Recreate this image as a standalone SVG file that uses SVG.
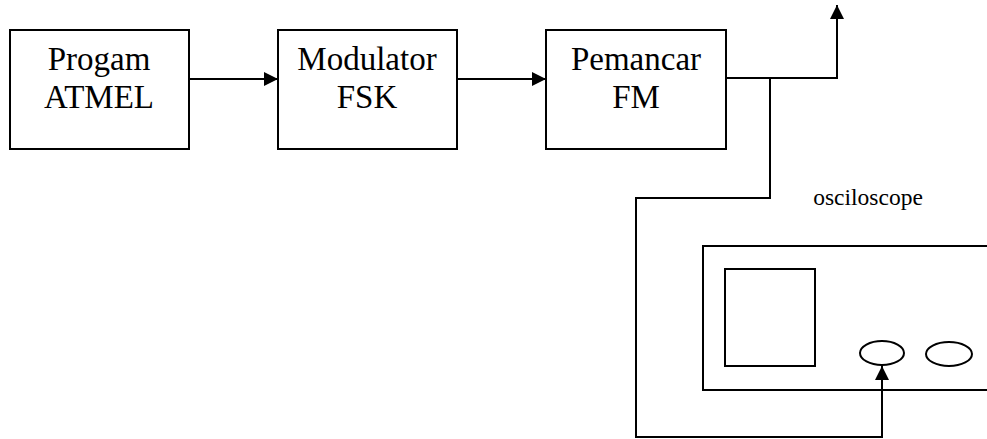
<svg xmlns="http://www.w3.org/2000/svg" width="987" height="439" viewBox="0 0 987 439">
  <style>
    .box { fill: #ffffff; stroke: #000000; stroke-width: 2; }
    .wire { fill: none; stroke: #000000; stroke-width: 2; }
    .lbl { font-family: "Liberation Serif", "Times New Roman", serif; font-size: 33px; fill: #000000; text-anchor: middle; }
    .small { font-family: "Liberation Serif", "Times New Roman", serif; font-size: 23.5px; fill: #000000; text-anchor: middle; }
  </style>
  <defs>
    <marker id="arrow" viewBox="0 0 14 14" refX="14" refY="7" markerWidth="14" markerHeight="14" markerUnits="userSpaceOnUse" orient="auto">
      <path d="M0,0 L14,7 L0,14 Z" fill="#000000"/>
    </marker>
  </defs>
  <rect width="987" height="439" fill="#ffffff"/>

  <g id="progam-atmel">
    <rect class="box" x="10" y="30" width="179" height="119"/>
    <text class="lbl" x="99" y="70">Progam</text>
    <text class="lbl" x="99" y="108">ATMEL</text>
  </g>

  <g id="modulator-fsk">
    <rect class="box" x="278" y="30" width="179" height="119"/>
    <text class="lbl" x="367" y="70">Modulator</text>
    <text class="lbl" x="367" y="108">FSK</text>
  </g>

  <g id="pemancar-fm">
    <rect class="box" x="546" y="30" width="180" height="119"/>
    <text class="lbl" x="636" y="70">Pemancar</text>
    <text class="lbl" x="636" y="108">FM</text>
  </g>

  <g id="osciloscope">
    <text class="small" x="868" y="205">osciloscope</text>
    <path class="wire" d="M990,246 H703 V390 H990"/>
    <rect class="box" x="725" y="269" width="90" height="97"/>
    <ellipse class="box" cx="882" cy="353" rx="22" ry="12"/>
    <ellipse class="box" cx="949" cy="354" rx="23" ry="12"/>
  </g>

  <g id="connectors">
    <line class="wire" x1="189" y1="79" x2="278" y2="79" marker-end="url(#arrow)"/>
    <line class="wire" x1="457" y1="79" x2="546" y2="79" marker-end="url(#arrow)"/>
    <path class="wire" d="M726,78 H837 V5" marker-end="url(#arrow)"/>
    <path class="wire" d="M770,78 V198 H636 V437 H882 V366" marker-end="url(#arrow)"/>
  </g>
</svg>
